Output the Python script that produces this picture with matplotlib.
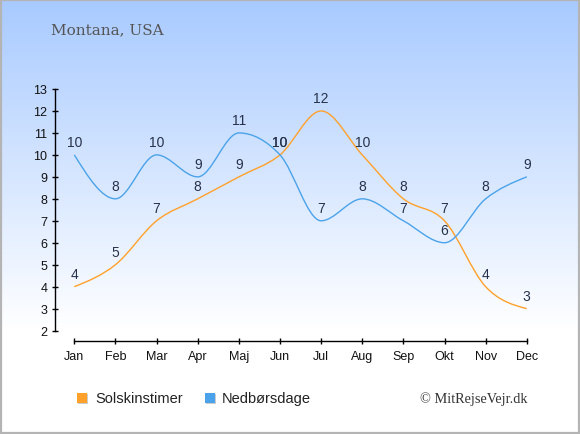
import numpy as np
import matplotlib
matplotlib.use("Agg")
import matplotlib.pyplot as plt
from matplotlib.path import Path
from matplotlib.patches import PathPatch, Rectangle

months = ["Jan", "Feb", "Mar", "Apr", "Maj", "Jun", "Jul", "Aug", "Sep", "Okt", "Nov", "Dec"]
sun_hours = [4, 5, 7, 8, 9, 10, 12, 10, 8, 7, 4, 3]
rain_days = [10, 8, 10, 9, 11, 10, 7, 8, 7, 6, 8, 9]
y_ticks = list(range(2, 14))
title = "Montana, USA"
legend_labels = ["Solskinstimer", "Nedbørsdage"]
credit = "© MitRejseVejr.dk"

ORANGE = "#ffa12a"
BLUE = "#4aa3ea"
LABEL = "#27324a"


def monotone_path(xs, ys):
    xs = np.asarray(xs, float)
    ys = np.asarray(ys, float)
    n = len(xs)
    h = np.diff(xs)
    s = np.diff(ys) / h
    t = np.zeros(n)
    for i in range(1, n - 1):
        p = (s[i - 1] * h[i] + s[i] * h[i - 1]) / (h[i - 1] + h[i])
        t[i] = (np.sign(s[i - 1]) + np.sign(s[i])) * min(abs(s[i - 1]), abs(s[i]), 0.5 * abs(p))
    t[0] = (3 * s[0] - t[1]) / 2
    t[-1] = (3 * s[-1] - t[-2]) / 2
    verts = [(xs[0], ys[0])]
    codes = [Path.MOVETO]
    for i in range(n - 1):
        d = h[i] / 3
        verts += [(xs[i] + d, ys[i] + d * t[i]), (xs[i + 1] - d, ys[i + 1] - d * t[i + 1]), (xs[i + 1], ys[i + 1])]
        codes += [Path.CURVE4] * 3
    return Path(verts, codes)


fig = plt.figure(figsize=(5.8, 4.35), dpi=100)

# background gradient
bg = fig.add_axes([0, 0, 1, 1], zorder=-10)
H = 435
rows = np.arange(H)
frac = np.clip(rows / 330.0, 0, 1)
top = np.array([168, 202, 255]) / 255.0
bot = np.array([255, 255, 255]) / 255.0
grad = top[None, :] * (1 - frac[:, None]) + bot[None, :] * frac[:, None]
img = np.repeat(grad[:, None, :], 10, axis=1)
bg.imshow(img, aspect="auto", extent=[0, 1, 0, 1], origin="upper")
bg.set_xlim(0, 1)
bg.set_ylim(0, 1)
bg.axis("off")
bg.add_patch(Rectangle((0.0015, 0.002), 0.997, 0.996, transform=bg.transAxes,
                       fill=False, edgecolor="#b4b4b4", linewidth=1.6))

x = np.arange(len(months))
ax = fig.add_axes([55 / 580, 93.5 / 435, 480 / 580, 251.5 / 435])
ax.patch.set_alpha(0)
ax.set_xlim(-0.47, 11.2)
ax.set_ylim(1.55, 13)

ax.add_patch(PathPatch(monotone_path(x, sun_hours), fill=False, edgecolor=ORANGE, linewidth=1.0, zorder=3))
ax.add_patch(PathPatch(monotone_path(x, rain_days), fill=False, edgecolor=BLUE, linewidth=1.0, zorder=3))

for xi, v in zip(x, sun_hours):
    ax.text(xi, v + 0.28, str(v), ha="center", va="bottom", fontsize=10, color=LABEL,
            family="Liberation Sans", clip_on=False, zorder=4)
for xi, v in zip(x, rain_days):
    ax.text(xi, v + 0.28, str(v), ha="center", va="bottom", fontsize=10, color=LABEL,
            family="Liberation Sans", clip_on=False, zorder=4)

for side in ["top", "right"]:
    ax.spines[side].set_visible(False)
ax.spines["left"].set_bounds(2, 13)
ax.spines["bottom"].set_bounds(0, 11)
ax.spines["left"].set_linewidth(1.0)
ax.spines["bottom"].set_linewidth(1.0)
ax.set_yticks(y_ticks)
ax.set_xticks(x)
ax.set_xticklabels(months)
ax.tick_params(axis="y", direction="inout", length=5, width=1.0, pad=3, labelsize=9, labelcolor="#111111")
ax.tick_params(axis="x", direction="inout", length=5, width=1.0, pad=4, labelsize=9, labelcolor="#111111")
for lab in ax.get_xticklabels() + ax.get_yticklabels():
    lab.set_family("Liberation Sans")

fig.text(51 / 580, 1 - 30 / 435, title, ha="left", va="center", fontsize=11, color="#555555",
         family="DejaVu Serif")

# legend
ly = 1 - 399 / 435
for sx, col in [(77, ORANGE), (205, BLUE)]:
    fig.patches.append(Rectangle(((sx + 1) / 580, ly - 6 / 435), 10 / 580, 10 / 435, transform=fig.transFigure,
                                 facecolor="#cccccc", edgecolor="none", figure=fig))
    fig.patches.append(Rectangle((sx / 580, ly - 5 / 435), 10 / 580, 10 / 435, transform=fig.transFigure,
                                 facecolor=col, edgecolor="none", figure=fig))
fig.text(95 / 580, ly, legend_labels[0], ha="left", va="center", fontsize=10.5, color="#222222",
         family="Liberation Sans")
fig.text(222 / 580, ly, legend_labels[1], ha="left", va="center", fontsize=10.5, color="#222222",
         family="Liberation Sans")
fig.text(527 / 580, ly, credit, ha="right", va="center", fontsize=10.3, color="#333333",
         family="Liberation Serif")

fig.savefig("out.png", dpi=100)
